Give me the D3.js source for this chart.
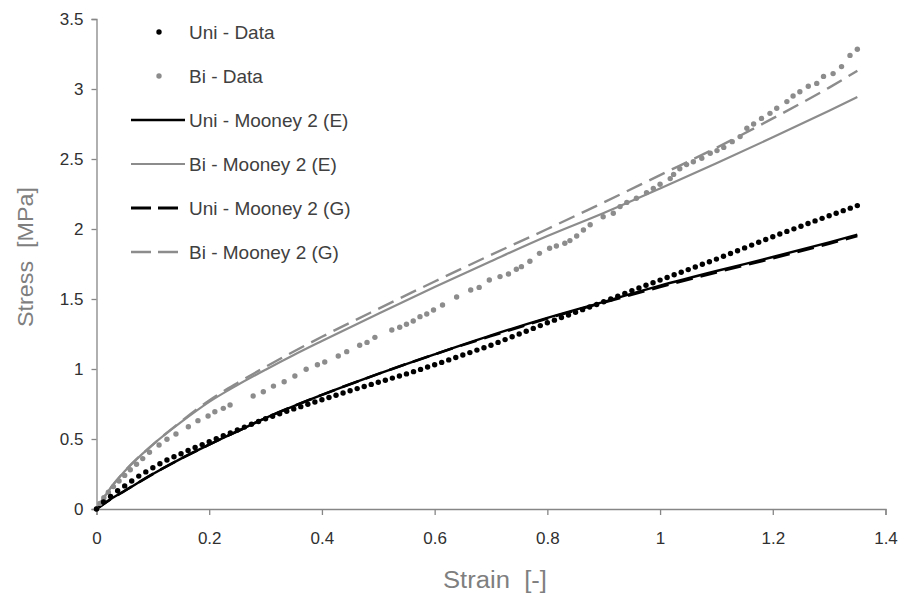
<!DOCTYPE html>
<html>
<head>
<meta charset="utf-8">
<script src="https://cdn.jsdelivr.net/npm/d3@7"></script>
<style>
  html, body { margin: 0; padding: 0; background: #fff; }
  svg { display: block; font-family: "Liberation Sans", Arial, sans-serif; }
</style>
</head>
<body>
<svg id="chart" width="905" height="598"></svg>
<script>
// Uniaxial test data: strain [-] and stress [MPa]
const uniStrain = [0,0.0125,0.025,0.0375,0.05,0.0625,0.075,0.0875,0.1,0.1125,0.125,0.1375,0.15,0.1625,0.175,0.1875,
  0.2,0.2125,0.225,0.2375,0.25,0.2625,0.275,0.2875,0.3,0.3125,0.325,0.3375,0.35,0.3625,0.375,0.3875,
  0.4,0.4125,0.425,0.4375,0.45,0.4625,0.475,0.4875,0.5,0.5125,0.525,0.5375,0.55,0.5625,0.575,0.5875,
  0.6,0.6125,0.625,0.6375,0.65,0.6625,0.675,0.6875,0.7,0.7125,0.725,0.7375,0.75,0.7625,0.775,0.7875,
  0.8,0.8125,0.825,0.8375,0.85,0.8625,0.875,0.8875,0.9,0.9125,0.925,0.9375,0.95,0.9625,0.975,0.9875,
  1.0,1.0125,1.025,1.0375,1.05,1.0625,1.075,1.0875,1.1,1.1125,1.125,1.1375,1.15,1.1625,1.175,1.1875,
  1.2,1.2125,1.225,1.2375,1.25,1.2625,1.275,1.2875,1.3,1.3125,1.325,1.3375,1.35];
const uniStress = [0,0.05,0.09,0.13,0.165,0.2,0.235,0.265,0.295,0.323,0.35,0.373,0.395,0.418,0.44,0.46,
  0.48,0.502,0.523,0.544,0.565,0.585,0.605,0.625,0.645,0.663,0.68,0.698,0.715,0.731,0.748,0.764,
  0.78,0.796,0.813,0.829,0.845,0.86,0.875,0.89,0.905,0.92,0.935,0.95,0.965,0.981,0.997,1.014,
  1.03,1.047,1.065,1.082,1.1,1.117,1.135,1.152,1.17,1.19,1.21,1.23,1.25,1.27,1.29,1.31,
  1.33,1.349,1.368,1.386,1.405,1.424,1.443,1.461,1.48,1.5,1.52,1.54,1.56,1.579,1.598,1.616,
  1.635,1.654,1.673,1.691,1.71,1.729,1.748,1.766,1.785,1.805,1.825,1.845,1.865,1.885,1.905,1.925,
  1.945,1.964,1.983,2.001,2.02,2.039,2.058,2.076,2.095,2.113,2.131,2.149,2.167];

// Equibiaxial test data
const biStrain = [0,0.006,0.013,0.021,0.03,0.04,0.05,0.06,0.071,0.082,0.094,0.111,0.125,0.141,0.163,0.18,
  0.198,0.21,0.225,0.237,0.278,0.296,0.314,0.333,0.352,0.372,0.392,0.405,0.429,0.444,0.467,0.48,
  0.494,0.524,0.538,0.55,0.562,0.574,0.586,0.598,0.614,0.639,0.664,0.679,0.697,0.716,0.731,0.745,
  0.754,0.769,0.786,0.804,0.816,0.831,0.84,0.852,0.864,0.876,0.899,0.917,0.929,0.941,0.958,0.976,
  0.988,1.0,1.018,1.024,1.035,1.047,1.059,1.074,1.089,1.101,1.113,1.128,1.142,1.154,1.166,1.18,
  1.195,1.207,1.225,1.236,1.248,1.263,1.278,1.29,1.307,1.322,1.337,1.35];
const biStress = [0,0.04,0.08,0.12,0.16,0.2,0.24,0.28,0.32,0.36,0.405,0.457,0.498,0.536,0.588,0.631,
  0.664,0.695,0.719,0.743,0.807,0.838,0.878,0.909,0.95,0.998,1.03,1.05,1.093,1.124,1.17,1.19,
  1.226,1.279,1.298,1.32,1.343,1.374,1.393,1.421,1.457,1.514,1.564,1.583,1.636,1.66,1.679,1.712,
  1.731,1.77,1.826,1.862,1.879,1.898,1.917,1.95,1.993,2.03,2.088,2.112,2.16,2.19,2.22,2.26,
  2.29,2.32,2.36,2.39,2.43,2.46,2.48,2.505,2.541,2.56,2.583,2.624,2.66,2.72,2.75,2.79,
  2.826,2.862,2.91,2.95,2.98,3.02,3.04,3.09,3.11,3.16,3.24,3.284];

// Two-term Mooney-Rivlin model curves
const modelStrain = [0,0.025,0.05,0.1,0.15,0.2,0.25,0.3,0.35,0.4,0.5,0.6,0.7,0.8,0.9,1.0,1.1,1.2,1.3,1.35];
const uniMooneyE  = [0,0.07,0.13,0.25,0.36,0.46,0.555,0.65,0.735,0.815,0.965,1.105,1.24,1.365,1.48,1.595,1.7,1.8,1.905,1.96];
const biMooneyE   = [0,0.15,0.27,0.46,0.62,0.765,0.885,0.995,1.1,1.2,1.395,1.585,1.77,1.95,2.115,2.29,2.47,2.655,2.845,2.943];
const uniMooneyG  = [0,0.07,0.13,0.25,0.36,0.46,0.555,0.65,0.735,0.815,0.965,1.105,1.235,1.36,1.475,1.585,1.69,1.79,1.895,1.95];
const biMooneyG   = [0,0.15,0.27,0.46,0.625,0.775,0.9,1.015,1.125,1.23,1.43,1.625,1.815,2.0,2.19,2.385,2.58,2.79,3.01,3.13];

const xTicks = [0,0.2,0.4,0.6,0.8,1,1.2,1.4];
const yTicks = [0,0.5,1,1.5,2,2.5,3,3.5];

const legendLabels = ["Uni - Data","Bi - Data","Uni - Mooney 2 (E)","Bi - Mooney 2 (E)","Uni - Mooney 2 (G)","Bi - Mooney 2 (G)"];

const BLACK = "#000000", GREY = "#8c8c8c";

const svg = d3.select("#chart");
const x = d3.scaleLinear().domain([0, 1.4]).range([96.5, 885.5]);
const y = d3.scaleLinear().domain([0, 3.5]).range([509, 19]);

// axes
const axisColor = "#868686";
const yAxis = svg.append("g").attr("transform", `translate(${x(0)},0)`)
  .call(d3.axisLeft(y).tickValues(yTicks).tickSize(5).tickPadding(8).tickFormat(d => String(d)));
const xAxis = svg.append("g").attr("transform", `translate(0,${y(0)})`)
  .call(d3.axisBottom(x).tickValues(xTicks).tickSize(6).tickPadding(17).tickFormat(d => String(d)));
[xAxis, yAxis].forEach(g => {
  g.select(".domain").attr("stroke", axisColor).attr("stroke-width", 1.3);
  g.selectAll(".tick line").attr("stroke", axisColor).attr("stroke-width", 1.3);
  g.selectAll(".tick text").attr("fill", "#303030").style("font-size", "17px")
    .style("font-family", "'Liberation Sans', Arial, sans-serif");
});

// model lines
const line = d3.line().x(d => x(d[0])).y(d => y(d[1])).curve(d3.curveMonotoneX);
const zip = (xs, ys) => xs.map((v, i) => [v, ys[i]]);
const models = [
  { ys: biMooneyE,  color: GREY,  width: 2.2, dash: null },
  { ys: biMooneyG,  color: GREY,  width: 2.4, dash: "17,8" },
  { ys: uniMooneyE, color: BLACK, width: 2.4, dash: null },
  { ys: uniMooneyG, color: BLACK, width: 2.6, dash: "17,8" }
];
models.forEach(m => {
  svg.append("path").datum(zip(modelStrain, m.ys))
    .attr("d", line).attr("fill", "none")
    .attr("stroke", m.color).attr("stroke-width", m.width)
    .attr("stroke-dasharray", m.dash);
});

// data markers
svg.append("g").selectAll("circle").data(zip(biStrain, biStress)).join("circle")
  .attr("cx", d => x(d[0])).attr("cy", d => y(d[1])).attr("r", 2.7).attr("fill", GREY);
svg.append("g").selectAll("circle").data(zip(uniStrain, uniStress)).join("circle")
  .attr("cx", d => x(d[0])).attr("cy", d => y(d[1])).attr("r", 2.7).attr("fill", BLACK);

// axis titles
svg.append("text").attr("x", 495).attr("y", 588).attr("text-anchor", "middle")
  .attr("fill", "#7f7f7f").style("font-size", "23px")
  .attr("textLength", 104).attr("lengthAdjust", "spacingAndGlyphs")
  .text("Strain\u00a0\u00a0[-]");
svg.append("text").attr("transform", "translate(33,257) rotate(-90)").attr("text-anchor", "middle")
  .attr("fill", "#7f7f7f").style("font-size", "22px")
  .attr("textLength", 140).attr("lengthAdjust", "spacingAndGlyphs")
  .text("Stress\u00a0\u00a0[MPa]");

// legend
const legend = svg.append("g");
const rows = [
  { kind: "dot", color: BLACK }, { kind: "dot", color: GREY },
  { kind: "line", color: BLACK, width: 2.6, dash: null }, { kind: "line", color: GREY, width: 2.2, dash: null },
  { kind: "line", color: BLACK, width: 2.8, dash: "20,7" }, { kind: "line", color: GREY, width: 2.6, dash: "20,7" }
];
rows.forEach((r, i) => {
  const cy = 32 + i * 44;
  if (r.kind === "dot") {
    legend.append("circle").attr("cx", 159).attr("cy", cy).attr("r", 2.7).attr("fill", r.color);
  } else {
    legend.append("line").attr("x1", 131).attr("x2", 185).attr("y1", cy).attr("y2", cy)
      .attr("stroke", r.color).attr("stroke-width", r.width).attr("stroke-dasharray", r.dash);
  }
  legend.append("text").attr("x", 189).attr("y", cy + 7).attr("fill", "#404040")
    .style("font-size", "19px").text(legendLabels[i]);
});
</script>
</body>
</html>
